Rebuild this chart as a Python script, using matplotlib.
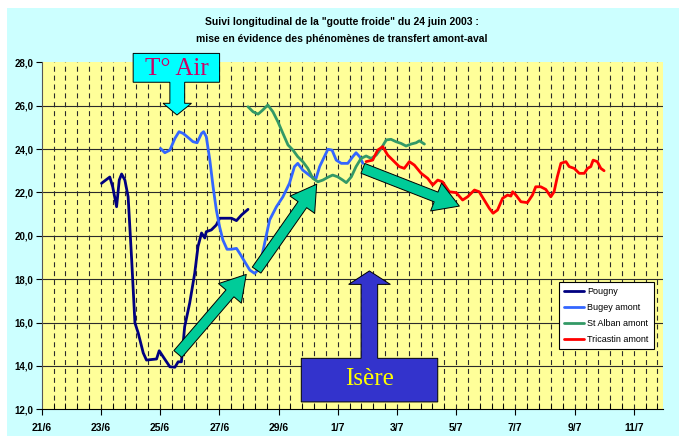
import matplotlib
matplotlib.use("Agg")
import matplotlib.pyplot as plt
from matplotlib.patches import Polygon, FancyArrowPatch, Rectangle
import numpy as np

# x = days since 21/6 (00h), y = temperature (°C)
pougny_x = [2.02, 2.30, 2.40, 2.53, 2.62, 2.70, 2.81, 2.92, 3.04, 3.15, 3.26, 3.43, 3.54,
            3.88, 3.97, 4.10, 4.33, 4.50, 4.61, 4.72, 4.83, 5.00, 5.17, 5.28, 5.40, 5.51,
            5.56, 5.73, 5.90, 6.01, 6.41, 6.58, 6.75, 6.97]
pougny_y = [22.42, 22.71, 22.25, 21.34, 22.57, 22.85, 22.57, 21.80, 18.88, 15.98, 15.52,
            14.60, 14.27, 14.32, 14.70, 14.43, 13.96, 13.94, 14.19, 14.19, 15.81, 16.90,
            18.28, 19.50, 20.13, 19.90, 20.19, 20.27, 20.50, 20.81, 20.81, 20.70, 20.96, 21.22]

bugey_x = [4.01, 4.16, 4.33, 4.50, 4.64, 4.78, 4.94, 5.11, 5.25, 5.40, 5.47, 5.56, 5.68,
           5.79, 5.90, 6.01, 6.12, 6.26, 6.41, 6.58, 6.69, 6.86, 7.03, 7.19, 7.25, 7.36,
           7.53, 7.70, 7.93, 8.15, 8.37, 8.54, 8.65, 8.82, 9.11, 9.27, 9.39, 9.55, 9.67,
           9.81, 9.95, 10.12, 10.34, 10.51, 10.62, 10.74, 10.85]
bugey_y = [24.03, 23.83, 23.95, 24.49, 24.80, 24.72, 24.54, 24.34, 24.29, 24.72, 24.80,
           24.57, 23.49, 22.26, 21.19, 20.42, 19.81, 19.38, 19.38, 19.42, 19.19, 18.80,
           18.42, 18.27, 18.34, 18.57, 19.65, 20.73, 21.34, 21.80, 22.42, 23.19, 23.34,
           23.03, 22.72, 22.65, 23.19, 23.65, 23.99, 23.95, 23.49, 23.34, 23.34, 23.65,
           23.83, 23.65, 23.34]

stalban_x = [6.97, 7.14, 7.31, 7.47, 7.64, 7.81, 7.98, 8.15, 8.32, 8.49, 8.65, 8.82, 8.99,
             9.16, 9.33, 9.50, 9.67, 9.83, 10.00, 10.17, 10.29, 10.46, 10.62, 10.79, 10.96,
             11.13, 11.30, 11.47, 11.64, 11.80, 11.97, 12.14, 12.31, 12.48, 12.65, 12.76, 12.93]
stalban_y = [25.95, 25.72, 25.61, 25.80, 26.03, 25.72, 25.26, 24.72, 24.19, 23.95, 23.65,
             23.42, 23.11, 22.65, 22.49, 22.57, 22.70, 22.80, 22.72, 22.57, 22.45, 22.72,
             23.19, 23.57, 23.68, 23.57, 23.72, 24.03, 24.42, 24.45, 24.34, 24.26, 24.14,
             24.23, 24.29, 24.38, 24.23]

tricastin_x = [10.96, 11.18, 11.35, 11.52, 11.69, 11.86, 12.08, 12.25, 12.42, 12.59, 12.82,
               13.04, 13.21, 13.38, 13.54, 13.77, 14.00, 14.22, 14.39, 14.62, 14.78, 14.95,
               15.12, 15.25, 15.40, 15.57, 15.74, 15.85, 15.91, 16.02, 16.19, 16.41, 16.58,
               16.69, 16.86, 17.03, 17.20, 17.31, 17.42, 17.54, 17.71, 17.82, 17.99, 18.16,
               18.33, 18.44, 18.55, 18.63, 18.77, 18.89, 19.00]
tricastin_y = [23.42, 23.49, 23.95, 24.11, 23.72, 23.49, 23.19, 23.11, 23.42, 23.26, 22.88,
               22.65, 22.34, 22.57, 22.49, 22.03, 21.99, 21.65, 21.80, 22.11, 22.03, 21.65,
               21.27, 21.04, 21.19, 21.73, 21.88, 21.83, 22.03, 21.88, 21.57, 21.53, 21.88,
               22.26, 22.26, 22.14, 21.80, 22.03, 22.72, 23.34, 23.42, 23.19, 23.11, 22.88,
               22.88, 23.11, 23.19, 23.49, 23.42, 23.11, 23.00]

x_ticks = [0, 2, 4, 6, 8, 10, 12, 14, 16, 18, 20]
x_labels = ['21/6', '23/6', '25/6', '27/6', '29/6', '1/7', '3/7', '5/7', '7/7', '9/7', '11/7']
y_ticks = [12, 14, 16, 18, 20, 22, 24, 26, 28]

title1 = 'Suivi longitudinal de la "goutte froide" du 24 juin 2003 :'
title2 = 'mise en évidence des phénomènes de transfert amont-aval'

plt.rcParams['font.family'] = ['Liberation Sans', 'DejaVu Sans']
plt.rcParams['lines.solid_joinstyle'] = 'round'
plt.rcParams['lines.solid_capstyle'] = 'round'

W, H = 679, 436
fig = plt.figure(figsize=(W / 100, H / 100), dpi=100, facecolor='white')
fig.patches.append(Rectangle((7 / W, 0), 1 - 7 / W, 1 - 8 / H, transform=fig.transFigure,
                             facecolor='#CCFFFF', edgecolor='none', zorder=-10))

ax = fig.add_axes([41.7 / W, 1 - 409.3 / H, 621.6 / W, 347 / H])
ax.set_facecolor('#FFFF99')
ax.set_xlim(0, 21)
ax.set_ylim(12, 28)

# grid
for yv in y_ticks[1:-1]:
    ax.axhline(yv, color='#2b2b2b', lw=0.8, zorder=1)
for xv in np.arange(0.4, 21, 0.4):
    ax.axvline(xv, color='#2b2b2b', lw=0.8, dashes=(4.5, 3.5), zorder=1)

ax.plot(pougny_x, pougny_y, color='#000080', lw=2, label='Pougny', zorder=3)
ax.plot(bugey_x, bugey_y, color='#3366FF', lw=2, label='Bugey amont', zorder=3)
ax.plot(stalban_x, stalban_y, color='#339966', lw=2, label='St Alban amont', zorder=3)
ax.plot(tricastin_x, tricastin_y, color='#FF0000', lw=2, label='Tricastin amont', zorder=3)

# axes styling
for s in ['top', 'right']:
    ax.spines[s].set_visible(False)
ax.spines['left'].set_color('#555555')
ax.spines['bottom'].set_color('black')
ax.set_xticks(x_ticks)
ax.set_xticklabels(x_labels, fontsize=7.5, fontweight='bold')
ax.set_xticks(np.arange(0.4, 21, 0.4), minor=True)
ax.set_yticks(y_ticks)
ax.set_yticklabels([f'{v:.1f}'.replace('.', ',') for v in y_ticks], fontsize=7, fontweight='bold')
ax.tick_params(axis='x', which='major', direction='out', length=4, pad=6)
ax.tick_params(axis='x', which='minor', direction='in', length=4)
ax.tick_params(axis='y', which='major', direction='out', length=4, pad=2)

# green arrows
for (xa, ya), (xb, yb) in [((4.60, 14.55), (6.91, 18.22)),
                           ((7.26, 18.42), (9.29, 22.38)),
                           ((10.85, 23.11), (14.11, 21.37))]:
    ax.add_patch(FancyArrowPatch((xa, ya), (xb, yb),
                                 arrowstyle='simple,head_length=0.5,head_width=0.6,tail_width=0.21',
                                 mutation_scale=36, shrinkA=0, shrinkB=0, facecolor='#00CC99',
                                 edgecolor='black', lw=0.7, zorder=5))

# callouts
air = [(3.09, 28.41), (6.01, 28.41), (6.01, 27.08), (4.83, 27.08), (4.83, 26.11), (5.06, 26.11),
       (4.57, 25.57), (4.10, 26.11), (4.33, 26.11), (4.33, 27.08), (3.09, 27.08)]
ax.add_patch(Polygon(air, closed=True, facecolor='#00FFFF', edgecolor='black', lw=0.7,
                     zorder=6, clip_on=False))
ax.text(4.55, 27.68, 'T° Air', fontsize=18, color='#CC0066', family='Liberation Serif',
        ha='center', va='center', zorder=7, clip_on=False)

isere = [(8.77, 12.34), (13.38, 12.34), (13.38, 14.35), (11.35, 14.35), (11.35, 17.76),
         (11.78, 17.76), (11.07, 18.38), (10.37, 17.76), (10.79, 17.76), (10.79, 14.35), (8.77, 14.35)]
ax.add_patch(Polygon(isere, closed=True, facecolor='#3333CC', edgecolor='black', lw=0.7, zorder=6))
ax.text(11.07, 13.4, 'Isère', fontsize=18, color='#FFFF00', family='Liberation Serif',
        ha='center', va='center', zorder=7)

leg = ax.legend(loc='upper right', bbox_to_anchor=(0.992, 0.380), fontsize=6.5, frameon=True,
                fancybox=False, framealpha=1, edgecolor='black', handlelength=2.2,
                labelspacing=0.75, borderpad=0.6, handletextpad=0.3)
leg.get_frame().set_linewidth(0.8)
leg.set_zorder(10)

fig.text(342 / W, 1 - 22 / H, title1, ha='center', va='center', fontsize=7.5, fontweight='bold')
fig.text(342 / W, 1 - 39 / H, title2, ha='center', va='center', fontsize=7.5, fontweight='bold')

fig.savefig('out.png', dpi=100, facecolor=fig.get_facecolor())
